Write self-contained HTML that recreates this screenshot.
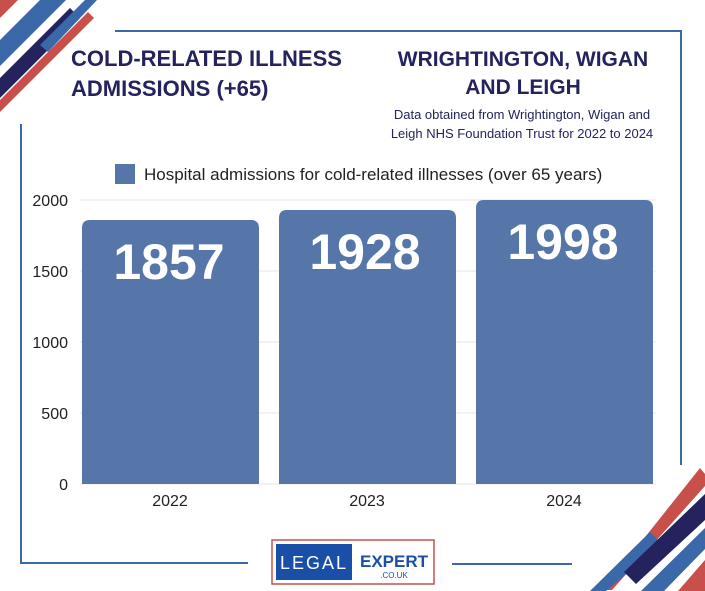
<!DOCTYPE html>
<html><head><style>
body{margin:0;width:705px;height:591px;background:#fff;overflow:hidden;font-family:"Liberation Sans",sans-serif;}
</style></head><body>
<svg width="705" height="591" xmlns="http://www.w3.org/2000/svg" style="position:absolute;left:0;top:0">
<polygon points="0,0 18,0 0,18" fill="#c9504a"/>
<polygon points="0,40 40,0 66,0 0,66" fill="#3b68a8"/>
<polygon points="0,78 62,16 70,8 80,18 0,98" fill="#24235e"/>
<polygon points="40,45 85,0 97,0 48,52" fill="#3b68a8"/>
<polygon points="0,100 88,12 94,18 0,112" fill="#c9504a"/>
<polygon points="603,590 700,468 705,474 705,486 612,590" fill="#c9504a"/>
<polygon points="590,591 650,532 662,544 606,591" fill="#3b68a8"/>
<polygon points="624,572 705,494 705,520 636,584" fill="#24235e"/>
<polygon points="641,591 705,528 705,549 664,591" fill="#3b68a8"/>
<polygon points="678,591 705,560 705,591" fill="#c9504a"/>
<line x1="115" y1="31" x2="682" y2="31" stroke="#3b68a8" stroke-width="2"/>
<line x1="681" y1="31" x2="681" y2="465" stroke="#3b68a8" stroke-width="2"/>
<line x1="21" y1="124" x2="21" y2="564" stroke="#3b68a8" stroke-width="2"/>
<line x1="21" y1="563" x2="248" y2="563" stroke="#3b68a8" stroke-width="2"/>
<line x1="452" y1="564" x2="572" y2="564" stroke="#3b68a8" stroke-width="2"/>
<g stroke="#e6e6e6" stroke-width="1">
<line x1="80" y1="200" x2="656" y2="200"/><line x1="80" y1="271" x2="656" y2="271"/>
<line x1="80" y1="342" x2="656" y2="342"/><line x1="80" y1="413" x2="656" y2="413"/>
<line x1="80" y1="484" x2="656" y2="484"/>
</g>
<g font-size="16" fill="#222" text-anchor="end">
<text x="68" y="206">2000</text><text x="68" y="277">1500</text><text x="68" y="348">1000</text><text x="68" y="419">500</text><text x="68" y="490">0</text>
</g>
<g fill="#5676a9">
<path d="M82,484 V228 Q82,220 90,220 H251 Q259,220 259,228 V484Z"/>
<path d="M279,484 V218 Q279,210 287,210 H448 Q456,210 456,218 V484Z"/>
<path d="M476,484 V208 Q476,200 484,200 H645 Q653,200 653,208 V484Z"/>
</g>
<g font-size="50" font-weight="bold" fill="#fff" text-anchor="middle">
<text x="169" y="279">1857</text><text x="365" y="269">1928</text><text x="563" y="259">1998</text>
</g>
<g font-size="16" fill="#222" text-anchor="middle">
<text x="170" y="506">2022</text><text x="367" y="506">2023</text><text x="564" y="506">2024</text>
</g>
<rect x="115" y="164" width="20" height="20" fill="#5676a9"/>
<text x="144" y="180" font-size="17" fill="#222">Hospital admissions for cold-related illnesses (over 65 years)</text>
<text x="71" y="66" font-size="22" font-weight="bold" fill="#24235e">COLD-RELATED ILLNESS</text>
<text x="71" y="96" font-size="22" font-weight="bold" fill="#24235e">ADMISSIONS (+65)</text>
<text x="523" y="66" font-size="21" font-weight="bold" fill="#24235e" text-anchor="middle">WRIGHTINGTON, WIGAN</text>
<text x="523" y="94" font-size="21" font-weight="bold" fill="#24235e" text-anchor="middle">AND LEIGH</text>
<text x="522" y="119" font-size="13" fill="#24235e" text-anchor="middle">Data obtained from Wrightington, Wigan and</text>
<text x="522" y="138" font-size="13" fill="#24235e" text-anchor="middle">Leigh NHS Foundation Trust for 2022 to 2024</text>
<rect x="272" y="540" width="162" height="44" fill="#fff" stroke="#c9504a" stroke-width="1.5"/>
<rect x="276" y="544" width="76" height="36" fill="#1a4fa8"/>
<text x="314" y="569" font-size="18" fill="#fff" text-anchor="middle" letter-spacing="2">LEGAL</text>
<text x="394" y="567" font-size="17" font-weight="bold" fill="#1a4fa8" text-anchor="middle">EXPERT</text>
<text x="394" y="578" font-size="8" fill="#1a4fa8" text-anchor="middle">.CO.UK</text>
</svg>
</body></html>
